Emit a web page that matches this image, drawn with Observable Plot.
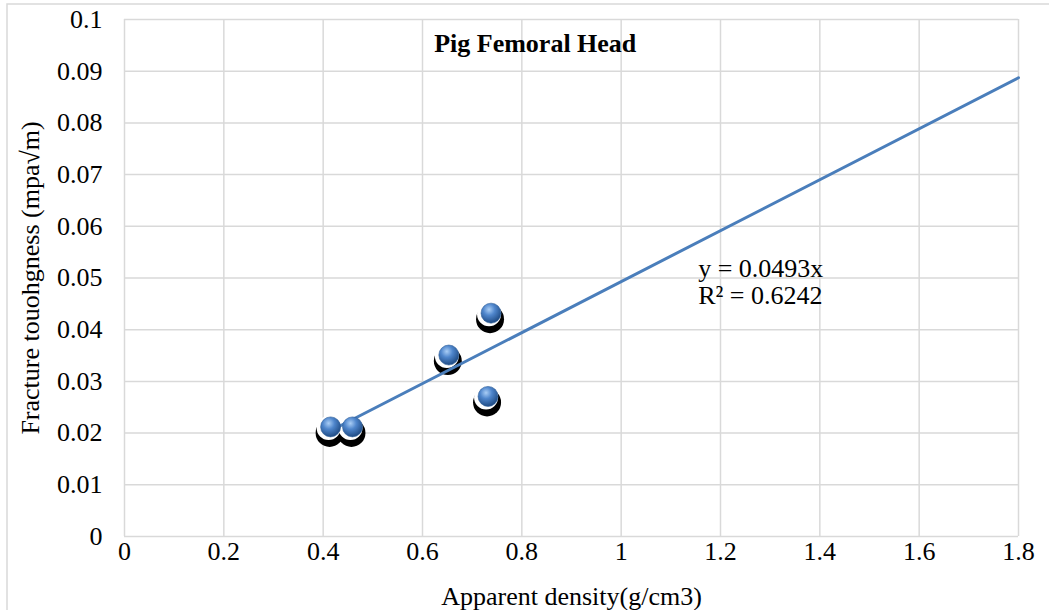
<!DOCTYPE html>
<html>
<head>
<meta charset="utf-8">
<script src="https://cdn.jsdelivr.net/npm/d3@7"></script>
<script src="https://cdn.jsdelivr.net/npm/@observablehq/plot@0.6"></script>
<style>
  html, body { margin: 0; padding: 0; background: #fff; }
</style>
</head>
<body>
<div id="chart"></div>
<script>
const density = [0.415, 0.459, 0.653, 0.738, 0.732];
const toughness = [0.0212, 0.0212, 0.0351, 0.0432, 0.0271];
const slope = 0.0493;
const rSquared = 0.6242;
const xTicks = [0, 0.2, 0.4, 0.6, 0.8, 1, 1.2, 1.4, 1.6, 1.8];
const yTicks = [0, 0.01, 0.02, 0.03, 0.04, 0.05, 0.06, 0.07, 0.08, 0.09, 0.1];
const title = "Pig Femoral Head";
const xLabel = "Apparent density(g/cm3)";
const yLabel = "Fracture touohgness (mpa√m)";

const points = density.map((d, i) => ({x: d, y: toughness[i]}));
const xMin = d3.min(density);
const trend = [xMin, 1.8].map(x => ({x, y: slope * x}));
const fmt = d => String(+(+d).toFixed(2));
const grid = "#d9d9d9";

const chart = Plot.plot({
  width: 1049,
  height: 610,
  marginLeft: 124,
  marginRight: 31,
  marginTop: 19,
  marginBottom: 74,
  style: {fontFamily: "'Liberation Serif', 'Times New Roman', serif", fontSize: "26px", color: "#000", background: "#fff"},
  x: {domain: [0, 1.8], ticks: xTicks, tickFormat: fmt},
  y: {domain: [0, 0.1], ticks: yTicks, tickFormat: fmt},
  marks: [
    Plot.gridX(xTicks, {stroke: grid, strokeOpacity: 1, strokeWidth: 1.5}),
    Plot.gridY(yTicks, {stroke: grid, strokeOpacity: 1, strokeWidth: 1.5}),
    Plot.axisX(xTicks, {tickSize: 0, tickPadding: 5, tickFormat: fmt, fontSize: 26,
      label: xLabel, labelAnchor: "center", labelArrow: "none", labelOffset: 68}),
    Plot.axisY(yTicks, {tickSize: 0, tickPadding: 22, tickFormat: fmt, fontSize: 26,
      label: yLabel, labelAnchor: "center", labelArrow: "none", labelOffset: 104}),
    Plot.dot(points, {x: "x", y: "y", r: 14, fill: "black", dy: 6, dx: -1}),
    Plot.dot(points, {x: "x", y: "y", r: 12, fill: "white", dy: 1, dx: -2}),
    Plot.line(trend, {x: "x", y: "y", stroke: "#4a7ebb", strokeWidth: 3}),
    Plot.dot(points, {x: "x", y: "y", r: 10, fill: "url(#ball)", stroke: "#2f5f9a", strokeWidth: 0.6}),
    Plot.text([{x: 1.155, y: 0.0519, t: `y = ${slope}x`}, {x: 1.155, y: 0.0466, t: `R² = ${rSquared}`}],
      {x: "x", y: "y", text: "t", textAnchor: "start", fontSize: 26}),
    Plot.text([{x: 0.827, y: 0.0954, t: title}], {x: "x", y: "y", text: "t", fontWeight: "bold", fontSize: 26})
  ]
});

const svg = d3.select(chart);
const defs = svg.insert("defs", ":first-child");
const g = defs.append("radialGradient").attr("id", "ball").attr("cx", "40%").attr("cy", "32%").attr("r", "65%");
g.append("stop").attr("offset", "0%").attr("stop-color", "#a9cdf5");
g.append("stop").attr("offset", "45%").attr("stop-color", "#4f86cc");
g.append("stop").attr("offset", "100%").attr("stop-color", "#23508a");
svg.append("rect").attr("x", 7).attr("y", 4).attr("width", 1200).attr("height", 800)
  .attr("fill", "none").attr("stroke", grid).attr("stroke-width", 1.5);

document.getElementById("chart").appendChild(chart);
</script>
</body>
</html>
